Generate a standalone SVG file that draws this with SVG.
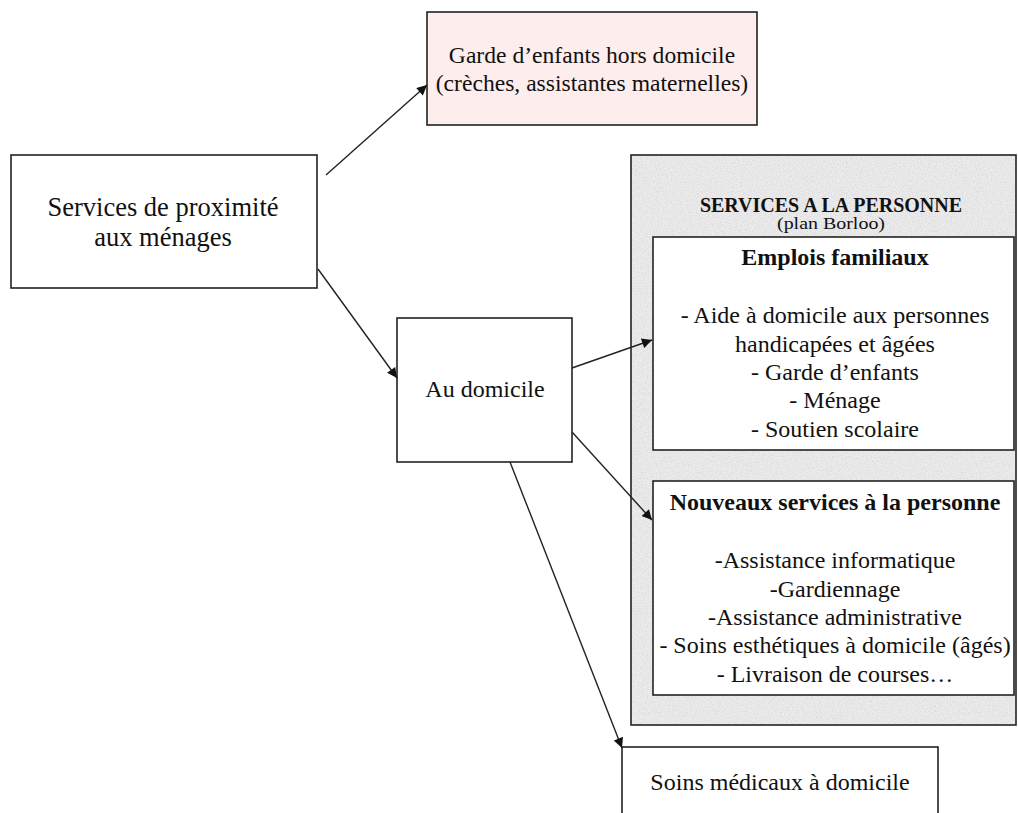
<svg xmlns="http://www.w3.org/2000/svg" width="1018" height="813" viewBox="0 0 1018 813">
<style>
.box{fill:#fff;stroke:#222;stroke-width:1.6}
.t{font-family:'Liberation Serif','DejaVu Serif',serif;font-weight:normal;fill:#111;text-anchor:middle;font-size:24px}
.b{font-weight:bold}
.c{stroke:#222;stroke-width:1.4;fill:none;marker-end:url(#ah)}
</style>
<defs>
<marker id="ah" viewBox="0 0 10 10" refX="10" refY="5" markerWidth="12" markerHeight="10" markerUnits="userSpaceOnUse" orient="auto">
<path d="M0,0 L10,5 L0,10 z" fill="#111"/>
</marker>
<filter id="grain" x="0" y="0" width="100%" height="100%">
<feTurbulence type="fractalNoise" baseFrequency="0.8" numOctaves="2" seed="3" result="n"/>
<feColorMatrix in="n" type="matrix" values="0 0 0 0 0.62  0 0 0 0 0.62  0 0 0 0 0.62  0 0 0 -1.4 0.85" result="g"/>
<feComposite in="g" in2="SourceGraphic" operator="in"/>
</filter>
</defs>
<rect width="1018" height="813" fill="#fff"/>

<g id="services-personne">
<rect x="631" y="155" width="385" height="570" fill="#ececec" stroke="#222" stroke-width="1.6"/>
<rect x="632" y="156" width="383" height="568" fill="#fff" filter="url(#grain)"/>
<text class="t b" x="831" y="212" style="font-size:20px">SERVICES A LA PERSONNE</text>
<text class="t" x="831" y="229" style="font-size:16px" textLength="108" lengthAdjust="spacingAndGlyphs">(plan Borloo)</text>
</g>

<g id="proximite">
<rect class="box" x="11" y="155" width="306" height="133"/>
<text class="t" x="163" y="216" style="font-size:26.5px">Services de proximité</text>
<text class="t" x="163" y="246" style="font-size:26.5px">aux ménages</text>
</g>

<g id="garde-hors">
<rect x="427" y="12" width="330" height="113" fill="#fdeded" stroke="#222" stroke-width="1.6"/>
<text class="t" x="592" y="63" style="font-size:23.6px">Garde d’enfants hors domicile</text>
<text class="t" x="592" y="91" style="font-size:23.6px">(crèches, assistantes maternelles)</text>
</g>

<g id="au-domicile">
<rect class="box" x="397" y="318" width="175" height="144"/>
<text class="t" x="485" y="397">Au domicile</text>
</g>

<g id="emplois">
<rect class="box" x="653" y="237" width="361" height="213"/>
<text class="t b" x="835" y="265">Emplois familiaux</text>
<text class="t" x="835" y="323">- Aide à domicile aux personnes</text>
<text class="t" x="835" y="352">handicapées et âgées</text>
<text class="t" x="835" y="380">- Garde d’enfants</text>
<text class="t" x="835" y="408">- Ménage</text>
<text class="t" x="835" y="437">- Soutien scolaire</text>
</g>

<g id="nouveaux">
<rect class="box" x="653" y="481" width="361" height="214"/>
<text class="t b" x="835" y="510">Nouveaux services à la personne</text>
<text class="t" x="835" y="568">-Assistance informatique</text>
<text class="t" x="835" y="597">-Gardiennage</text>
<text class="t" x="835" y="625">-Assistance administrative</text>
<text class="t" x="835" y="653">- Soins esthétiques à domicile (âgés)</text>
<text class="t" x="835" y="682">- Livraison de courses…</text>
</g>

<g id="soins-medicaux">
<rect class="box" x="622" y="747" width="316" height="80"/>
<text class="t" x="780" y="790">Soins médicaux à domicile</text>
</g>

<g id="connectors">
<line class="c" x1="326" y1="175" x2="427" y2="85"/>
<line class="c" x1="318" y1="269" x2="397" y2="378"/>
<line class="c" x1="572" y1="368" x2="652" y2="340"/>
<line class="c" x1="572" y1="432" x2="652" y2="520"/>
<line class="c" x1="510" y1="462" x2="622" y2="748"/>
</g>
</svg>
